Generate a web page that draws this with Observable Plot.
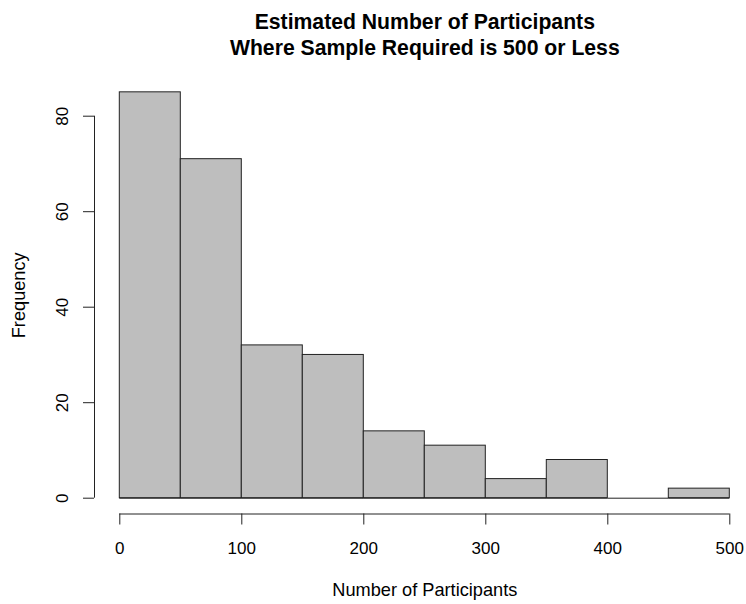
<!DOCTYPE html>
<html><head><meta charset="utf-8">
<script src="https://cdn.jsdelivr.net/npm/d3@7"></script>
<script src="https://cdn.jsdelivr.net/npm/@observablehq/plot@0.6"></script>
<style>body{margin:0;background:#fff}</style>
</head><body><div id="chart"></div>
<script>
const binStarts = [0, 50, 100, 150, 200, 250, 300, 350, 400, 450];
const binEnds = [50, 100, 150, 200, 250, 300, 350, 400, 450, 500];
const counts = [85, 71, 32, 30, 14, 11, 4, 8, 0, 2];
const xTicks = [0, 100, 200, 300, 400, 500];
const yTicks = [0, 20, 40, 60, 80];
const titleText = "Estimated Number of Participants\nWhere Sample Required is 500 or Less";
const xLabel = "Number of Participants";
const yLabel = "Frequency";

const bins = counts.map((c, i) => ({x1: binStarts[i], x2: binEnds[i], count: c}));
const font = "'Liberation Sans', Arial, Helvetica, sans-serif";

const chart = Plot.plot({
  width: 746,
  height: 604,
  marginLeft: 119.3,
  marginRight: 16.7,
  marginTop: 76.1,
  marginBottom: 90.5,
  style: {fontFamily: font, fontSize: "17px", color: "#000", background: "#fff"},
  x: {domain: [0, 500]},
  y: {domain: [0, 80], range: [497.7, 115.7]},
  marks: [
    Plot.rectY(bins, {x1: "x1", x2: "x2", y: "count", fill: "#bebebe", stroke: "#222", strokeWidth: 1}),
    Plot.ruleY(bins, {x1: "x1", x2: "x2", y: 0, stroke: "#222"}),
    Plot.ruleX([0], {y1: 0, y2: 80, dx: -25.3, stroke: "#222"}),
    Plot.axisY(yTicks, {anchor: "left", tickSize: 11, dx: -25.3, fill: "none", stroke: "#222", label: null}),
    Plot.text(yTicks, {y: d => d, text: d => String(d), frameAnchor: "left", dx: -56.8, rotate: -90, textAnchor: "middle", lineAnchor: "middle", fontSize: 17, fill: "#000"}),
    Plot.ruleY([0], {x1: 0, x2: 500, dy: 15.8, stroke: "#222"}),
    Plot.axisX(xTicks, {anchor: "bottom", tickSize: 11, tickPadding: 17, stroke: "#222", fill: "#000", fontSize: 17, label: null}),
    Plot.text([xLabel], {frameAnchor: "bottom", dy: 76.5, lineAnchor: "middle", fontSize: 18.2, fill: "#000"}),
    Plot.text([yLabel], {frameAnchor: "left", dx: -100.3, rotate: -90, lineAnchor: "middle", textAnchor: "middle", fontSize: 18.2, fill: "#000"}),
    Plot.text([titleText], {frameAnchor: "top", dy: -43.1, lineAnchor: "middle", lineHeight: 1.25, fontSize: 21.2, fontWeight: "bold", fill: "#000"})
  ]
});
document.getElementById("chart").appendChild(chart);
</script>
</body></html>
